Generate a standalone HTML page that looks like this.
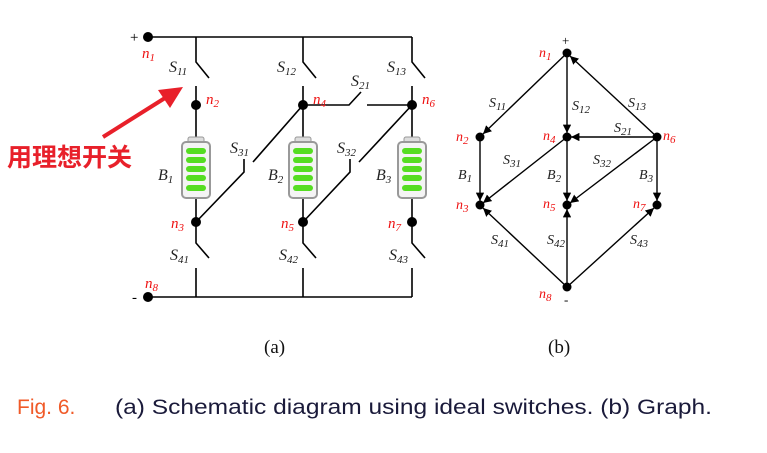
<!DOCTYPE html>
<html><head><meta charset="utf-8"><style>
html,body{margin:0;padding:0;background:#fff;width:767px;height:453px;overflow:hidden}
svg{display:block}
.l{stroke:#000;stroke-width:1.6;fill:none}
.t{font-family:"Liberation Serif",serif;font-style:italic;font-size:16px;fill:#222}
.r{font-family:"Liberation Serif",serif;font-style:italic;font-size:15px;fill:#e11}
.s{font-size:11px}
.g{font-size:14px}
</style></head><body>
<svg width="767" height="453" viewBox="0 0 767 453" xmlns="http://www.w3.org/2000/svg">
<defs>
<g id="bat">
<rect x="-8" y="0" width="16" height="6" rx="2" fill="#ddd" stroke="#999" stroke-width="1"/>
<rect x="-14" y="5" width="28" height="56" rx="4" fill="#f4f4f4" stroke="#999" stroke-width="2"/>
<rect x="-10" y="11" width="20" height="6" rx="3" fill="#5d2"/>
<rect x="-10" y="20" width="20" height="6" rx="3" fill="#5d2"/>
<rect x="-10" y="29" width="20" height="6" rx="3" fill="#5d2"/>
<rect x="-10" y="38" width="20" height="6" rx="3" fill="#5d2"/>
<rect x="-10" y="48" width="20" height="6" rx="3" fill="#5d2"/>
</g>
<marker id="ar" viewBox="0 0 10 10" refX="10" refY="5" markerWidth="6" markerHeight="6" orient="auto"><path d="M0,0 L10,5 L0,10 z" fill="#000"/></marker>
</defs>
<path class="l" d="M148,37 H412 M148,297 H412"/>
<path class="l" d="M196,37 V62 L209,78 M196,86 V137 M196,198 V243 L209,258 M196,268 V297"/>
<path class="l" d="M303,37 V62 L316,78 M303,86 V137 M303,198 V243 L316,258 M303,268 V297"/>
<path class="l" d="M412,37 V62 L425,78 M412,86 V137 M412,198 V243 L425,258 M412,268 V297"/>
<path class="l" d="M303,105 H349 L361,92 M367,105 H412"/>
<path class="l" d="M196,222 L244,172 V159 M253,162 L303,105"/>
<path class="l" d="M303,222 L350,172 V159 M359,162 L412,105"/>
<use href="#bat" x="196" y="137"/><use href="#bat" x="303" y="137"/><use href="#bat" x="412" y="137"/>
<g fill="#000"><circle cx="148" cy="37" r="5"/><circle cx="148" cy="297" r="5"/>
<circle cx="196" cy="105" r="5"/><circle cx="303" cy="105" r="5"/><circle cx="412" cy="105" r="5"/>
<circle cx="196" cy="222" r="5"/><circle cx="303" cy="222" r="5"/><circle cx="412" cy="222" r="5"/></g>
<text x="130" y="42" font-family="Liberation Serif" font-size="15">+</text>
<text x="132" y="302" font-family="Liberation Serif" font-size="15">-</text>
<text class="r" x="142" y="58">n<tspan class="s" dy="3">1</tspan></text>
<text class="r" x="206" y="104">n<tspan class="s" dy="3">2</tspan></text>
<text class="r" x="171" y="228">n<tspan class="s" dy="3">3</tspan></text>
<text class="r" x="313" y="104">n<tspan class="s" dy="3">4</tspan></text>
<text class="r" x="281" y="228">n<tspan class="s" dy="3">5</tspan></text>
<text class="r" x="422" y="104">n<tspan class="s" dy="3">6</tspan></text>
<text class="r" x="388" y="228">n<tspan class="s" dy="3">7</tspan></text>
<text class="r" x="145" y="288">n<tspan class="s" dy="3">8</tspan></text>
<text class="t" x="169" y="72">S<tspan class="s" dy="3">11</tspan></text>
<text class="t" x="277" y="72">S<tspan class="s" dy="3">12</tspan></text>
<text class="t" x="387" y="72">S<tspan class="s" dy="3">13</tspan></text>
<text class="t" x="351" y="86">S<tspan class="s" dy="3">21</tspan></text>
<text class="t" x="230" y="153">S<tspan class="s" dy="3">31</tspan></text>
<text class="t" x="337" y="153">S<tspan class="s" dy="3">32</tspan></text>
<text class="t" x="170" y="260">S<tspan class="s" dy="3">41</tspan></text>
<text class="t" x="279" y="260">S<tspan class="s" dy="3">42</tspan></text>
<text class="t" x="389" y="260">S<tspan class="s" dy="3">43</tspan></text>
<text class="t" x="158" y="180">B<tspan class="s" dy="3">1</tspan></text>
<text class="t" x="268" y="180">B<tspan class="s" dy="3">2</tspan></text>
<text class="t" x="376" y="180">B<tspan class="s" dy="3">3</tspan></text>
<line x1="103" y1="137" x2="165" y2="98" stroke="#e8202a" stroke-width="4"/>
<polygon points="183,87 158,90 170,108" fill="#e8202a"/>
<text x="7" y="166" font-family="'Noto Sans CJK SC',sans-serif" font-weight="bold" font-size="25" fill="#e8202a">用理想开关</text>
<g stroke="#000" stroke-width="1.4" fill="none" marker-end="url(#ar)">
<line x1="567" y1="53" x2="483" y2="134"/>
<line x1="567" y1="53" x2="567" y2="133"/>
<line x1="657" y1="137" x2="570" y2="56"/>
<line x1="657" y1="137" x2="571" y2="137"/>
<line x1="567" y1="137" x2="483" y2="203"/>
<line x1="657" y1="137" x2="570" y2="203"/>
<line x1="480" y1="137" x2="480" y2="201"/>
<line x1="567" y1="137" x2="567" y2="201"/>
<line x1="657" y1="137" x2="657" y2="201"/>
<line x1="567" y1="287" x2="483" y2="208"/>
<line x1="567" y1="287" x2="567" y2="209"/>
<line x1="567" y1="287" x2="654" y2="208"/>
</g>
<g fill="#000"><circle cx="567" cy="53" r="4.5"/><circle cx="480" cy="137" r="4.5"/><circle cx="567" cy="137" r="4.5"/><circle cx="657" cy="137" r="4.5"/>
<circle cx="480" cy="205" r="4.5"/><circle cx="567" cy="205" r="4.5"/><circle cx="657" cy="205" r="4.5"/><circle cx="567" cy="287" r="4.5"/></g>
<text x="562" y="45" font-family="Liberation Serif" font-size="13">+</text>
<text x="564" y="304" font-family="Liberation Serif" font-size="13">-</text>
<text class="r g" x="539" y="57">n<tspan class="s" dy="3">1</tspan></text>
<text class="r g" x="456" y="141">n<tspan class="s" dy="3">2</tspan></text>
<text class="r g" x="456" y="209">n<tspan class="s" dy="3">3</tspan></text>
<text class="r g" x="543" y="140">n<tspan class="s" dy="3">4</tspan></text>
<text class="r g" x="543" y="208">n<tspan class="s" dy="3">5</tspan></text>
<text class="r g" x="663" y="140">n<tspan class="s" dy="3">6</tspan></text>
<text class="r g" x="633" y="208">n<tspan class="s" dy="3">7</tspan></text>
<text class="r g" x="539" y="298">n<tspan class="s" dy="3">8</tspan></text>
<text class="t g" x="489" y="107">S<tspan class="s" dy="3">11</tspan></text>
<text class="t g" x="572" y="110">S<tspan class="s" dy="3">12</tspan></text>
<text class="t g" x="628" y="107">S<tspan class="s" dy="3">13</tspan></text>
<text class="t g" x="614" y="132">S<tspan class="s" dy="3">21</tspan></text>
<text class="t g" x="503" y="164">S<tspan class="s" dy="3">31</tspan></text>
<text class="t g" x="593" y="164">S<tspan class="s" dy="3">32</tspan></text>
<text class="t g" x="491" y="244">S<tspan class="s" dy="3">41</tspan></text>
<text class="t g" x="547" y="244">S<tspan class="s" dy="3">42</tspan></text>
<text class="t g" x="630" y="244">S<tspan class="s" dy="3">43</tspan></text>
<text class="t g" x="458" y="179">B<tspan class="s" dy="3">1</tspan></text>
<text class="t g" x="547" y="179">B<tspan class="s" dy="3">2</tspan></text>
<text class="t g" x="639" y="179">B<tspan class="s" dy="3">3</tspan></text>
<text x="264" y="353" font-family="Liberation Serif" font-size="19" fill="#111">(a)</text>
<text x="548" y="353" font-family="Liberation Serif" font-size="19" fill="#111">(b)</text>
<text x="17" y="414" font-family="Liberation Sans" font-size="21" fill="#f05a28">Fig. 6.</text>
<text x="115" y="414" font-family="Liberation Sans" font-size="21" fill="#1a1a3a" textLength="597" lengthAdjust="spacingAndGlyphs">(a) Schematic diagram using ideal switches. (b) Graph.</text>
</svg>
</body></html>
